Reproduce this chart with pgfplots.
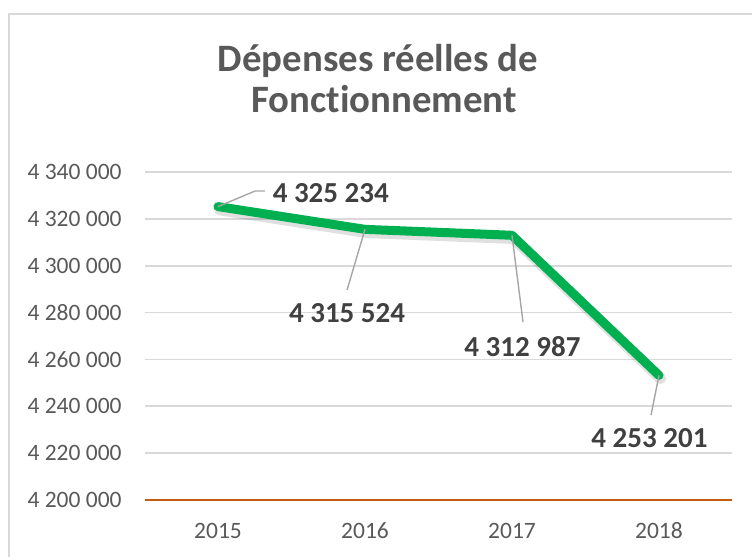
\documentclass[border=0pt]{standalone}
\usepackage{fontspec}
\setmainfont{Carlito}[Ligatures=NoCommon]
\usepackage{pgfplots}
\pgfplotsset{compat=1.18}

\definecolor{titlegray}{HTML}{595959}
\definecolor{labelgray}{HTML}{404040}
\definecolor{gridgray}{HTML}{D9D9D9}
\definecolor{leadgray}{HTML}{A6A6A6}
\definecolor{linegreen}{HTML}{00B050}
\definecolor{axisorange}{HTML}{C55A11}

\pgfplotstableread{
x year value
0 2015 4325234
1 2016 4315524
2 2017 4312987
3 2018 4253201
}\depenses

\begin{document}
\begin{tikzpicture}[x=0.5pt, y=0.5pt]
% page = 752 x 557 px, 1px = 0.5pt, y counted from the bottom
\useasboundingbox (0,0) rectangle (752,557);
\draw[gridgray, line width=1pt] (9,0) -- (9,543) -- (752,543);

\node[anchor=base, text=titlegray, inner sep=0pt,
      font=\bfseries\fontsize{19.4}{23}\selectfont] at (378,485) {Dépenses réelles de};
\node[anchor=base, text=titlegray, inner sep=0pt,
      font=\bfseries\fontsize{19.4}{23}\selectfont] at (384,444) {Fonctionnement};

\begin{axis}[
    at={(72.25pt,28.5pt)}, anchor=south west,
    width=294pt, height=164pt, scale only axis,
    xmin=-0.5, xmax=3.5,
    ymin=4200000, ymax=4340000,
    xtick={0,1,2,3},
    xticklabels={2015,2016,2017,2018},
    ytick={4200000,4220000,4240000,4260000,4280000,4300000,4320000,4340000},
    yticklabels={4 200 000,4 220 000,4 240 000,4 260 000,4 280 000,4 300 000,4 320 000,4 340 000},
    scaled y ticks=false,
    major tick length=0pt,
    axis x line*=bottom,
    axis y line*=left,
    x axis line style={axisorange, line width=1pt},
    y axis line style={draw=none},
    ymajorgrids,
    major grid style={gridgray, line width=0.8pt},
    x tick label style={font=\fontsize{11.75}{14}\selectfont, text=titlegray, inner sep=0pt,
                        text height=7.5pt, text depth=0pt, yshift=-11.5pt},
    y tick label style={font=\fontsize{11.75}{14}\selectfont, text=titlegray, inner sep=0pt, xshift=-11.25pt},
    clip=false,
]
% soft shadow under the line
\addplot[black, opacity=0.12, line width=5.5pt, line join=round, line cap=round,
         shift={(0.8pt,-1.6pt)}] table[x=x, y=value] {\depenses};
\addplot[linegreen, line width=4.5pt, line join=round, line cap=round]
    table[x=x, y=value] {\depenses};

% leader lines
\draw[leadgray, line width=0.7pt] (axis cs:0,4325234) -- (axis cs:0.252,4331881) -- (axis cs:0.32,4331881);
\draw[leadgray, line width=0.7pt] (axis cs:1,4315524) -- (axis cs:0.878,4289628);
\draw[leadgray, line width=0.7pt] (axis cs:2,4312987) -- (axis cs:2.075,4275970);
\draw[leadgray, line width=0.7pt] (axis cs:3,4253201) -- (axis cs:2.946,4236278);

% data labels
\tikzset{dlabel/.style={inner sep=0pt, text=labelgray, font=\bfseries\fontsize{14.5}{17}\selectfont}}
\node[dlabel, anchor=west] at (axis cs:0.37,4331028) {4 325 234};
\node[dlabel] at (axis cs:0.878,4279812) {4 315 524};
\node[dlabel] at (axis cs:2.071,4265300) {4 312 987};
\node[dlabel] at (axis cs:2.935,4226462) {4 253 201};
\end{axis}
\end{tikzpicture}
\end{document}
